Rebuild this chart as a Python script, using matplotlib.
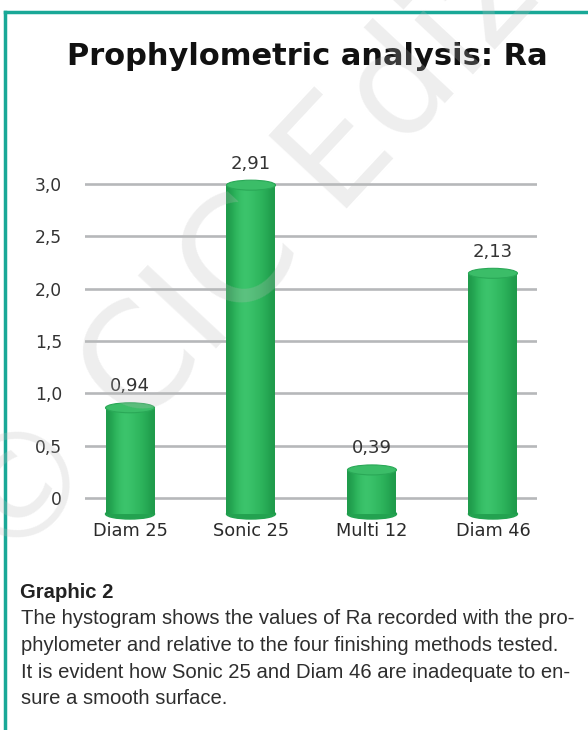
import numpy as np
import matplotlib
matplotlib.use("Agg")
import matplotlib.pyplot as plt
from matplotlib.patches import Ellipse
from matplotlib.lines import Line2D
from matplotlib.colors import LinearSegmentedColormap

categories = ["Diam 25", "Sonic 25", "Multi 12", "Diam 46"]
values = [0.94, 2.91, 0.39, 2.13]
value_labels = ["0,94", "2,91", "0,39", "2,13"]
yticks = [0, 0.5, 1.0, 1.5, 2.0, 2.5, 3.0]
ytick_labels = ["0", "0,5", "1,0", "1,5", "2,0", "2,5", "3,0"]
title = "Prophylometric analysis: Ra"
caption_head = "Graphic 2"
caption_lines = [
    "The hystogram shows the values of Ra recorded with the pro-",
    "phylometer and relative to the four finishing methods tested.",
    "It is evident how Sonic 25 and Diam 46 are inadequate to en-",
    "sure a smooth surface.",
]

W, H = 588, 730
fig = plt.figure(figsize=(W / 100, H / 100), dpi=100)
fig.patch.set_facecolor("white")

def fx(px):
    return px / W

def fy(py):
    return 1 - py / H

# gridline axes: y=0 at 498px, y=3 at 184px
ppu = (498 - 184) / 3.0
ylo, yhi = -0.15, 3.4
B = 498 + (-ylo) * ppu
T = 498 - yhi * ppu
xlim = (-0.372, 3.364)
ax = fig.add_axes([fx(85), fy(B), fx(537) - fx(85), (B - T) / H])
ax.set_ylim(ylo, yhi)
ax.set_xlim(*xlim)
ax.patch.set_alpha(0)
for s in ax.spines.values():
    s.set_visible(False)
for t in yticks:
    ax.axhline(t, color="#b6b8ba", lw=1.9, zorder=1)
ax.set_yticks(yticks)
ax.set_yticklabels(ytick_labels, fontsize=12.3, color="#333333", family="DejaVu Sans")
ax.tick_params(axis="y", length=0, pad=16.5)
ax.set_xticks(range(len(categories)))
ax.set_xticklabels(categories, fontsize=12.8, color="#2a2a2a", family="DejaVu Sans")
ax.tick_params(axis="x", length=0, pad=6)

# bar axes: cylinders drawn in the front plane of the 3D chart (perspective offset)
bppu = 113.0
P0 = 514.0
B2, T2 = 545.0, 130.0
ax2 = fig.add_axes([fx(85), fy(B2), fx(537) - fx(85), (B2 - T2) / H])
ylim2 = ((P0 - B2) / bppu, (P0 - T2) / bppu)
ax2.set_ylim(*ylim2)
ax2.set_xlim(*xlim)
ax2.axis("off")

bw = 0.405
eh = 10.0 / bppu
grad = np.array([[0.0, 0.35, 0.7, 0.85, 0.75, 0.6, 0.45, 0.25, 0.0]])
cmap = LinearSegmentedColormap.from_list("cyl", ["#1f9b4b", "#2cb35b", "#3dc56d"])
bars = ax2.bar(range(len(values)), values, width=bw, color="#2db35c", zorder=3)
for i, (b, v) in enumerate(zip(bars, values)):
    x0 = b.get_x()
    im = ax2.imshow(grad, cmap=cmap, aspect="auto", interpolation="bicubic",
                    extent=[x0, x0 + bw, 0, v], zorder=3.5)
    im.set_clip_path(b)
    ax2.add_patch(Ellipse((i, 0), bw, eh, color="#23a250", zorder=2.9))
    ax2.add_patch(Ellipse((i, v), bw, eh, facecolor="#3bbd68", edgecolor="#2aa857",
                          lw=0.8, zorder=4))
    ax2.annotate(value_labels[i], (i, v), xytext=(0, 15.5), textcoords="offset points",
                 ha="center", va="center", fontsize=13, color="#333333",
                 family="DejaVu Sans", zorder=5, annotation_clip=False)
ax2.set_xlim(*xlim)
ax2.set_ylim(*ylim2)

# title
fig.text(fx(307), fy(65), title, ha="center", va="baseline", fontsize=22,
         fontweight="bold", color="#111111", family="DejaVu Sans")

# caption
fig.text(fx(20), fy(598), caption_head, ha="left", va="baseline", fontsize=14.6,
         fontweight="bold", color="#222222", family="Liberation Sans")
for k, line in enumerate(caption_lines):
    fig.text(fx(21), fy(624 + 26.8 * k), line, ha="left", va="baseline", fontsize=14.6,
             color="#2e2e2e", family="Liberation Sans")

# frame lines
fig.add_artist(Line2D([fx(5), fx(588)], [fy(12), fy(12)], color="#19a897", lw=2.5))
fig.add_artist(Line2D([fx(5), fx(5)], [fy(12), fy(730)], color="#19a897", lw=2.5))

# watermark
fig.text(fx(335), fy(162), "\u00a9 CIC Edizioni", ha="center", va="center",
         rotation=47, rotation_mode="anchor", fontsize=105, color="#bdbdbd",
         alpha=0.25, family="DejaVu Sans", zorder=10)

fig.savefig("out.png", dpi=100)
